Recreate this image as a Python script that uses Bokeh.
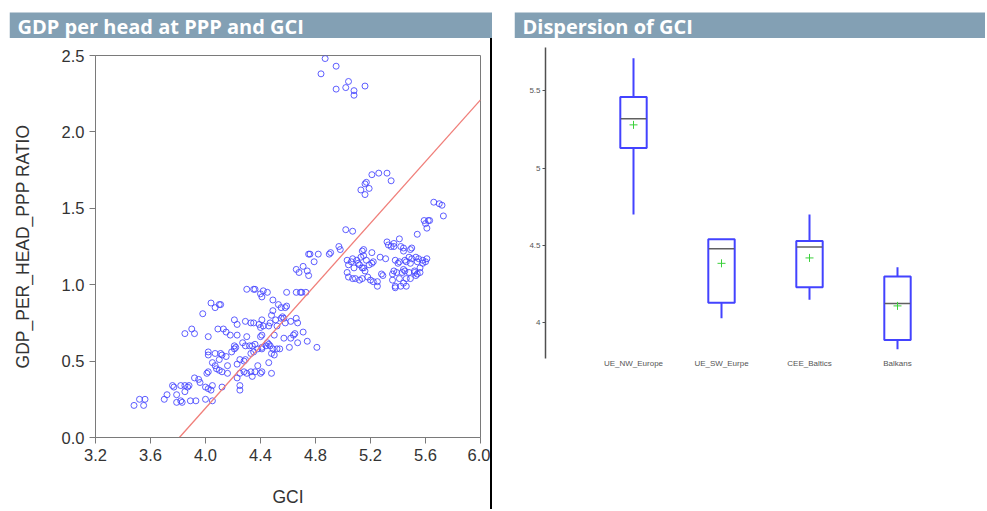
from bokeh.plotting import figure
from bokeh.layouts import row, column
from bokeh.models import Range1d, Div, Spacer, FixedTicker, PrintfTickFormatter, ColumnDataSource
from bokeh.core.properties import value
from bokeh.transform import dodge
from bokeh.embed import file_html
from bokeh.resources import INLINE

# ---------------- data: scatter GDP per head (PPP ratio) vs GCI ----------------
gci_low = [3.48, 3.52, 3.56, 3.55, 3.70, 3.72, 3.76, 3.77, 3.79, 3.79,
           3.82, 3.83, 3.82, 3.85, 3.87, 3.88, 3.85, 3.89, 3.93, 3.92,
           3.95, 3.96, 4.00, 4.00, 4.02, 4.04, 4.05, 4.05, 4.12, 4.25,
           4.25, 4.01, 4.02, 4.16, 4.25, 4.28, 4.30, 4.33, 4.36, 4.38,
           4.40, 4.41, 4.46, 4.48, 4.34, 4.23, 4.05, 4.07, 4.08, 4.10]
gdp_low = [0.21, 0.25, 0.25, 0.21, 0.25, 0.28, 0.34, 0.33, 0.28, 0.23,
           0.24, 0.23, 0.34, 0.34, 0.33, 0.34, 0.30, 0.24, 0.24, 0.39,
           0.38, 0.36, 0.25, 0.33, 0.32, 0.31, 0.34, 0.24, 0.33, 0.34,
           0.31, 0.42, 0.43, 0.42, 0.42, 0.43, 0.42, 0.43, 0.43, 0.47,
           0.42, 0.43, 0.49, 0.42, 0.40, 0.39, 0.49, 0.47, 0.45, 0.44]

gci_mid = [4.12, 4.10, 4.16, 4.23, 4.25, 4.02, 4.02, 4.07, 4.11, 4.12,
           4.15, 4.19, 4.21, 4.28, 4.29, 4.33, 4.35, 4.38, 4.41, 4.48,
           4.50, 4.49, 4.21, 4.22, 4.27, 4.29, 4.32, 4.34, 4.36, 4.41,
           4.45, 4.46, 4.47, 4.44, 4.52, 4.54, 4.61, 4.81, 3.90, 3.92,
           3.85, 4.02, 4.09, 4.13, 4.15, 4.18, 4.23, 4.30, 4.40, 4.41]
gdp_mid = [0.43, 0.51, 0.47, 0.48, 0.51, 0.56, 0.54, 0.55, 0.55, 0.54,
           0.53, 0.56, 0.58, 0.50, 0.51, 0.55, 0.56, 0.58, 0.58, 0.55,
           0.54, 0.58, 0.60, 0.59, 0.62, 0.60, 0.60, 0.60, 0.61, 0.59,
           0.62, 0.61, 0.60, 0.60, 0.58, 0.58, 0.59, 0.59, 0.71, 0.68,
           0.68, 0.66, 0.71, 0.71, 0.69, 0.67, 0.67, 0.66, 0.66, 0.67]

gci_up = [4.50, 4.57, 4.62, 4.64, 4.65, 4.67, 4.71, 4.74, 4.21, 4.23,
          4.29, 4.33, 4.35, 4.39, 4.40, 4.41, 4.42, 4.46, 4.47, 4.48,
          4.49, 4.51, 4.52, 4.55, 4.56, 4.57, 4.58, 4.62, 4.66, 4.67,
          4.04, 4.07, 4.10, 4.11, 3.98, 4.30, 4.35, 4.36, 4.40, 4.41,
          4.42, 4.45, 4.49, 4.53, 4.55, 4.58, 4.59, 4.59, 4.66, 4.69]
gdp_up = [0.67, 0.65, 0.65, 0.67, 0.68, 0.62, 0.69, 0.63, 0.77, 0.74,
          0.76, 0.75, 0.75, 0.74, 0.72, 0.77, 0.73, 0.73, 0.75, 0.80,
          0.83, 0.77, 0.73, 0.78, 0.79, 0.78, 0.75, 0.76, 0.78, 0.75,
          0.88, 0.85, 0.87, 0.87, 0.81, 0.97, 0.97, 0.97, 0.94, 0.92,
          0.96, 0.95, 0.90, 0.87, 0.85, 0.85, 0.86, 0.95, 0.95, 0.95]

gci_bridge = [4.70, 4.73, 4.66, 4.68, 4.71, 4.74, 4.75, 4.79, 4.75, 4.76,
              4.82, 4.90, 4.91, 4.97, 4.98, 5.02, 5.07]
gdp_bridge = [0.95, 0.95, 1.10, 1.08, 1.12, 1.09, 1.06, 1.15, 1.20, 1.20,
              1.20, 1.20, 1.21, 1.25, 1.23, 1.36, 1.35]

gci_west = [5.32, 5.33, 5.37, 5.41, 5.42, 5.44, 5.50, 5.54, 5.61, 5.15,
            5.14, 5.21, 5.03, 5.07, 5.10, 5.13, 5.15, 5.17, 5.19, 5.22,
            5.27, 5.31, 5.38, 5.41, 5.45, 5.48, 5.50, 5.53, 5.55, 5.58,
            5.61, 5.54, 5.49, 5.04, 5.08, 5.12, 5.14, 5.16, 5.21, 5.03,
            5.04, 5.07, 5.09, 5.12, 5.14, 5.18, 5.20, 5.22, 5.25, 5.28,
            5.36, 5.37, 5.39, 5.43, 5.45, 5.48, 5.52, 5.54, 5.56, 5.36,
            5.38, 5.41, 5.44, 5.49, 5.53, 5.06, 5.11, 5.15, 5.25, 5.38,
            5.29, 5.40, 5.46, 5.58, 5.60, 5.56, 5.44, 5.52, 5.46, 5.42,
            5.46, 5.63, 5.37, 5.35, 5.49, 5.44]
gdp_west = [1.28, 1.26, 1.27, 1.30, 1.25, 1.24, 1.24, 1.33, 1.37, 1.23,
            1.22, 1.21, 1.16, 1.17, 1.16, 1.18, 1.19, 1.16, 1.13, 1.15,
            1.18, 1.17, 1.16, 1.15, 1.16, 1.18, 1.17, 1.18, 1.17, 1.16,
            1.17, 1.15, 1.14, 1.13, 1.11, 1.13, 1.11, 1.09, 1.14, 1.08,
            1.05, 1.04, 1.04, 1.03, 1.04, 1.05, 1.03, 1.02, 1.02, 1.07,
            1.07, 1.09, 1.08, 1.08, 1.09, 1.08, 1.09, 1.07, 1.08, 1.03,
            0.99, 1.04, 1.01, 1.04, 1.06, 1.15, 1.14, 1.11, 0.99, 0.98,
            1.06, 1.14, 1.15, 1.14, 1.15, 1.11, 1.10, 1.08, 1.04, 0.99,
            0.99, 1.42, 1.25, 1.25, 1.23, 1.22]

gci_hi = [5.66, 5.70, 5.72, 5.73, 5.59, 5.62, 5.60]
gdp_hi = [1.54, 1.53, 1.52, 1.45, 1.42, 1.42, 1.40]

gci_mid_hi = [5.21, 5.26, 5.32, 5.35, 5.17, 5.16, 5.13, 5.19, 5.16]
gdp_mid_hi = [1.72, 1.73, 1.73, 1.68, 1.67, 1.66, 1.62, 1.63, 1.59]

gci_top = [4.87, 4.84, 4.95, 4.95, 5.02, 5.04, 5.08, 5.08, 5.16]
gdp_top = [2.48, 2.38, 2.43, 2.28, 2.29, 2.33, 2.27, 2.24, 2.30]

fit_x = [3.81, 6.0]
fit_y = [0.0, 2.21]

x_ticks = [3.2, 3.6, 4.0, 4.4, 4.8, 5.2, 5.6, 6.0]
y_ticks = [0.0, 0.5, 1.0, 1.5, 2.0, 2.5]

# ---------------- data: box plot of GCI by region ----------------
regions = ["UE_NW_Europe", "UE_SW_Eurpe", "CEE_Baltics", "Balkans"]
box_lower = [4.70, 4.03, 4.15, 3.83]
box_q1 = [5.13, 4.13, 4.23, 3.89]
box_median = [5.32, 4.48, 4.49, 4.125]
box_q3 = [5.46, 4.54, 4.53, 4.30]
box_upper = [5.71, 4.54, 4.70, 4.36]
box_mean = [5.28, 4.385, 4.42, 4.11]
box_ticks = [4.0, 4.5, 5.0, 5.5]

titles = ["GDP per head at PPP and GCI", "Dispersion of GCI"]

HEADER_BG = "#83a0b4"
BLUE = "#4343ff"
AX = "#7a7a7a"
FONT = "Liberation Sans"


def header(title, w):
    # frame covers the whole 30px strip; the coloured bar fills its lower 26px
    f = figure(width=w, height=30, x_range=Range1d(0, w), y_range=Range1d(0, 30),
               toolbar_location=None, output_backend="svg",
               min_border_left=0, min_border_right=0, min_border_bottom=0, min_border_top=0)
    f.axis.visible = False
    f.grid.visible = False
    f.outline_line_color = None
    f.background_fill_color = "white"
    f.border_fill_color = "white"
    f.quad(left=[0], right=[w], bottom=[0], top=[26], fill_color=HEADER_BG, line_color=None)
    f.text(x=[8], y=[12.5], text=[title], text_font=value("Open Sans"),
           text_font_style="bold", text_font_size="20px", text_color="white",
           text_baseline="middle", text_align="left")
    return f


# ---------------- left: scatter ----------------
gci = gci_low + gci_mid + gci_up + gci_bridge + gci_west + gci_hi + gci_mid_hi + gci_top
gdp = gdp_low + gdp_mid + gdp_up + gdp_bridge + gdp_west + gdp_hi + gdp_mid_hi + gdp_top
src = ColumnDataSource(dict(gci=gci, gdp=gdp))

p1 = figure(width=481, height=471, x_range=Range1d(3.2, 6.0), y_range=Range1d(0, 2.5),
            toolbar_location=None, output_backend="svg",
            min_border_left=85, min_border_right=10, min_border_top=17, min_border_bottom=72)
p1.grid.visible = False
p1.outline_line_color = AX
p1.outline_line_width = 1
p1.scatter("gci", "gdp", source=src, marker="circle", size=6, fill_color=None,
           line_color=BLUE, line_width=1, line_alpha=0.85)
p1.line(fit_x, fit_y, line_color="#f07f7a", line_width=1.3)

for ax in (p1.xaxis[0], p1.yaxis[0]):
    ax.axis_line_color = AX
    ax.major_tick_line_color = AX
    ax.major_tick_out = 6
    ax.major_tick_in = 0
    ax.minor_tick_line_color = None
    ax.major_label_text_font = FONT
    ax.major_label_text_font_size = "16.5px"
    ax.major_label_text_color = "#333333"
    ax.major_label_standoff = 5
    ax.axis_label_text_font = FONT
    ax.axis_label_text_font_size = "17.5px"
    ax.axis_label_text_font_style = "normal"
    ax.axis_label_text_color = "#333333"
    ax.formatter = PrintfTickFormatter(format="%.1f")
p1.xaxis.ticker = FixedTicker(ticks=x_ticks)
p1.yaxis.ticker = FixedTicker(ticks=y_ticks)
p1.xaxis.axis_label = "GCI"
p1.yaxis.axis_label = "GDP_PER_HEAD_PPP RATIO"
p1.xaxis.axis_label_standoff = 23
p1.yaxis.axis_label_standoff = 26

vline = Div(width=2, height=471, margin=(0, 0, 0, 0), styles={"background-color": "#000000"})

# ---------------- right: box plot ----------------
pos = list(range(len(regions)))
bsrc = ColumnDataSource(dict(x=pos, lower=box_lower, q1=box_q1, med=box_median,
                             q3=box_q3, upper=box_upper, mean=box_mean))

p2 = figure(width=471, height=471, x_range=Range1d(-1.0, 4.0), y_range=Range1d(3.77, 5.78),
            toolbar_location=None, output_backend="svg",
            min_border_left=31, min_border_right=0, min_border_top=9, min_border_bottom=151)
p2.grid.visible = False
p2.outline_line_color = None
p2.segment(x0="x", y0="q3", x1="x", y1="upper", source=bsrc, line_color=BLUE, line_width=2)
p2.segment(x0="x", y0="lower", x1="x", y1="q1", source=bsrc, line_color=BLUE, line_width=2)
p2.vbar(x="x", bottom="q1", top="q3", width=0.3, source=bsrc, fill_color="white",
        line_color=BLUE, line_width=2)
p2.segment(x0=dodge("x", -0.145), y0="med", x1=dodge("x", 0.145), y1="med", source=bsrc,
           line_color="#606060", line_width=1.5)
p2.scatter(x="x", y="mean", source=bsrc, marker="cross", size=8, line_color="#3bd13b",
           line_width=1)

p2.yaxis.ticker = FixedTicker(ticks=box_ticks)
p2.yaxis.formatter = PrintfTickFormatter(format="%g")
p2.yaxis.axis_line_color = "#505050"
p2.yaxis.axis_line_width = 1.5
p2.yaxis.major_tick_line_color = "#505050"
p2.yaxis.major_tick_out = 3
p2.yaxis.major_tick_in = 0
p2.yaxis.minor_tick_line_color = None
p2.yaxis.major_label_text_font = FONT
p2.yaxis.major_label_text_font_size = "8px"
p2.yaxis.major_label_text_color = "#555555"
p2.yaxis.major_label_standoff = 2

p2.xaxis.ticker = FixedTicker(ticks=pos)
p2.xaxis.major_label_overrides = {i: r for i, r in zip(pos, regions)}
p2.xaxis.axis_line_color = None
p2.xaxis.major_tick_line_color = None
p2.xaxis.major_tick_out = 0
p2.xaxis.major_tick_in = 0
p2.xaxis.minor_tick_line_color = None
p2.xaxis.major_label_text_font = FONT
p2.xaxis.major_label_text_font_size = "8px"
p2.xaxis.major_label_text_color = "#555555"
p2.xaxis.major_label_standoff = 0

left_col = column(header(titles[0], 483), row(p1, vline))
right_col = column(header(titles[1], 471), row(p2))

layout = column(
    Spacer(width=985, height=8),
    row(Spacer(width=9, height=501), left_col, Spacer(width=22, height=501), right_col),
)

open("out.html", "w").write(file_html(layout, INLINE))
